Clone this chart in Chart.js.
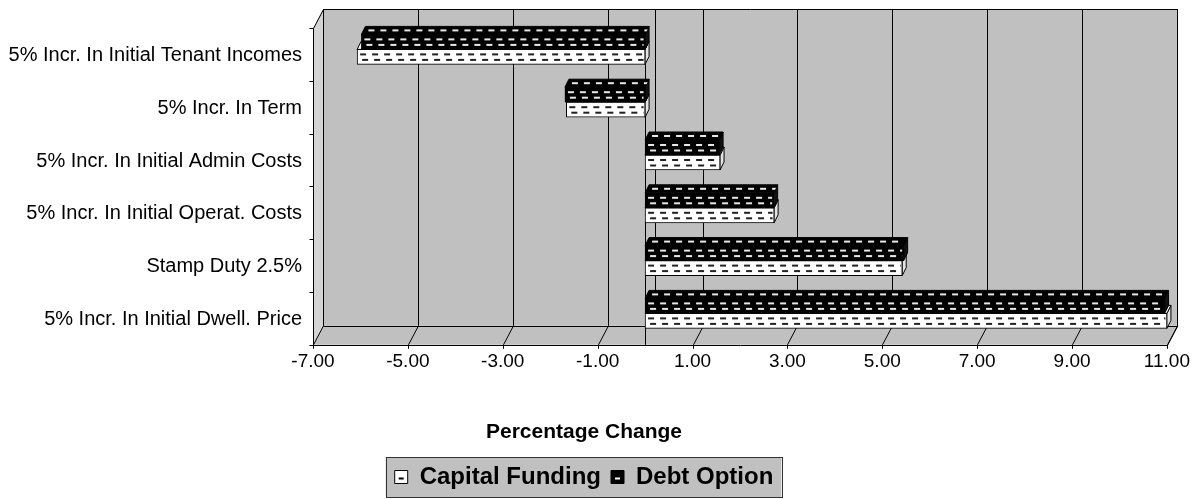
<!DOCTYPE html>
<html>
<head>
<meta charset="utf-8">
<script src="https://cdn.jsdelivr.net/npm/chart.js@4.4.0/dist/chart.umd.min.js"></script>
<style>
  html, body { margin: 0; padding: 0; background: #fff; }
  #wrap { width: 1201px; height: 499px; }
</style>
</head>
<body>
<div id="wrap"><canvas id="sens" width="1201" height="499"></canvas></div>
<script>
// percentage change in outcome for each input change
const categories = [
  '5% Incr. In Initial Tenant Incomes',
  '5% Incr. In Term',
  '5% Incr. In Initial Admin Costs',
  '5% Incr. In Initial Operat. Costs',
  'Stamp Duty 2.5%',
  '5% Incr. In Initial Dwell. Price'
];
const capitalFunding = [-6.07, -1.66, 1.58, 2.72, 5.42, 11.0];
const debtOption     = [-5.98, -1.69, 1.56, 2.71, 5.45, 10.95];
const xTicks = [-7, -5, -3, -1, 1, 3, 5, 7, 9, 11];

// fake 3D: back wall offset from the front plane, bar face depth
const WALL_DX = 10, WALL_DY = 19;
const FRONT_DY = 5;
const BAR_DX = 4, BAR_DY = 8;
const WALL = '#c0c0c0';

Chart.defaults.font.family = '"Liberation Sans", Arial, sans-serif';
Chart.defaults.color = '#000';

function line(ctx, x1, y1, x2, y2) {
  ctx.beginPath(); ctx.moveTo(x1, y1); ctx.lineTo(x2, y2); ctx.stroke();
}
function poly(ctx, pts, fill, stroke) {
  ctx.beginPath();
  pts.forEach((p, i) => i ? ctx.lineTo(p[0], p[1]) : ctx.moveTo(p[0], p[1]));
  ctx.closePath();
  if (fill) { ctx.fillStyle = fill; ctx.fill(); }
  if (stroke) { ctx.strokeStyle = stroke; ctx.stroke(); }
}
function barBox(el) {
  const p = el.getProps(['x', 'y', 'base', 'height'], true);
  return {
    l: Math.min(p.x, p.base), r: Math.max(p.x, p.base),
    t: p.y - p.height / 2, b: p.y + p.height / 2
  };
}
// rows of short dashes inside a clip region
function dashRows(ctx, x0, x1, rows, color, shift) {
  ctx.fillStyle = color;
  rows.forEach((ry, i) => {
    const off = (i % 2) * 2 + (shift || 0);
    for (let dx = x0 + 3 + off; dx < x1; dx += 12) ctx.fillRect(dx, ry - 1, 6, 2);
  });
}

const depth3d = {
  id: 'depth3d',
  beforeDraw(chart) {
    const { ctx, chartArea: ca, scales: { x } } = chart;
    const fL = ca.left, fR = ca.right, fT = ca.top + FRONT_DY, fB = ca.bottom + FRONT_DY;
    const bL = fL + WALL_DX, bR = fR + WALL_DX, bT = fT - WALL_DY, bB = fB - WALL_DY;
    ctx.save();
    ctx.fillStyle = '#fff';
    ctx.fillRect(0, 0, chart.width, chart.height);

    // walls and floor
    ctx.fillStyle = WALL;
    ctx.fillRect(bL, bT, bR - bL, bB - bT);
    poly(ctx, [[fL, fT], [bL, bT], [bL, bB], [fL, fB]], '#d4d4d4', null);
    poly(ctx, [[fL, fB], [bL, bB], [bR, bB], [fR, fB]], WALL, null);

    ctx.strokeStyle = '#000';
    ctx.lineWidth = 1;
    xTicks.forEach(v => {
      const px = Math.round(x.getPixelForValue(v)) + 0.5;
      line(ctx, px + WALL_DX, bT, px + WALL_DX, bB);
      line(ctx, px + WALL_DX, bB, px, fB);
      line(ctx, px, fB, px, fB + 4);
    });
    // value axis crossing at zero
    const z = Math.round(x.getPixelForValue(0)) + 0.5;
    line(ctx, z, fT, z, fB);
    line(ctx, z + WALL_DX, bT, z + WALL_DX, bB);

    const L = Math.round(fL) + 0.5, R = Math.round(fR) + 0.5;
    const T = Math.round(fT) + 0.5, B = Math.round(fB) + 0.5;
    const BT = Math.round(bT) + 0.5, BB = Math.round(bB) + 0.5;
    line(ctx, L, T, L, B);
    line(ctx, L, T, L + WALL_DX, BT);
    line(ctx, L + WALL_DX, BT, R + WALL_DX, BT);
    line(ctx, R + WALL_DX, BT, R + WALL_DX, BB);
    line(ctx, L + WALL_DX, BB, R + WALL_DX, BB);
    line(ctx, L, B, R, B);
    line(ctx, R, B, R + WALL_DX, BB);

    // category ticks on the left edge
    const step = ca.height / categories.length;
    for (let k = 0; k <= categories.length; k++) {
      const yy = Math.round(ca.top + k * step + FRONT_DY) + 0.5;
      line(ctx, L - 4, yy, L, yy);
    }

    // legend frame
    const lg = chart.legend;
    if (lg && lg.legendHitBoxes.length) {
      const hb = lg.legendHitBoxes;
      const l0 = Math.min(...hb.map(h => h.left)) - 9;
      const r0 = Math.max(...hb.map(h => h.left + h.width)) + 8;
      const t0 = Math.min(...hb.map(h => h.top)) - 8;
      const b0 = Math.max(...hb.map(h => h.top + h.height)) + 8;
      ctx.fillStyle = WALL;
      ctx.fillRect(l0, t0, r0 - l0, b0 - t0);
      ctx.strokeStyle = '#333';
      ctx.strokeRect(Math.round(l0) + 0.5, Math.round(t0) + 0.5, Math.round(r0 - l0), Math.round(b0 - t0));
    }
    ctx.restore();
  },
  // top and end faces go in before the front faces of each series
  beforeDatasetDraw(chart, args) {
    const { ctx } = chart;
    const dark = args.index === 0;
    ctx.save();
    ctx.lineWidth = 1;
    args.meta.data.forEach(el => {
      const b = barBox(el);
      const top = [[b.l, b.t], [b.l + BAR_DX, b.t - BAR_DY], [b.r + BAR_DX, b.t - BAR_DY], [b.r, b.t]];
      const side = [[b.r, b.t], [b.r + BAR_DX, b.t - BAR_DY], [b.r + BAR_DX, b.b - BAR_DY], [b.r, b.b]];
      poly(ctx, side, dark ? '#111' : '#e4e4e4', '#000');
      poly(ctx, top, dark ? '#000' : '#f4f4f4', '#000');
      ctx.save();
      poly(ctx, top, null, null);
      ctx.clip();
      dashRows(ctx, b.l + BAR_DX / 2, b.r, [b.t - BAR_DY / 2], dark ? '#e8e8e8' : '#222', 2);
      ctx.restore();
    });
    ctx.restore();
  },
  afterDatasetDraw(chart, args) {
    const { ctx } = chart;
    const dark = args.index === 0;
    ctx.save();
    args.meta.data.forEach(el => {
      const b = barBox(el);
      ctx.save();
      ctx.beginPath();
      ctx.rect(b.l + 1.5, b.t + 1.5, b.r - b.l - 3, b.b - b.t - 3);
      ctx.clip();
      dashRows(ctx, b.l, b.r, [b.t + 5, b.t + 10.5], dark ? '#e8e8e8' : '#222');
      ctx.restore();
    });
    ctx.restore();
  },
  afterDraw(chart) {
    const lg = chart.legend;
    if (!lg) return;
    const { ctx } = chart;
    const fs = lg.options.labels.font.size, bh = lg.options.labels.boxHeight;
    lg.legendItems.forEach((item, i) => {
      const hb = lg.legendHitBoxes[i];
      const top = hb.top + Math.max((fs - bh) / 2, 0);
      ctx.fillStyle = item.datasetIndex === 0 ? '#fff' : '#000';
      ctx.fillRect(hb.left + 4, top + 7, 5, 2);
    });
  }
};

new Chart(document.getElementById('sens'), {
  type: 'bar',
  data: {
    labels: categories,
    datasets: [
      {
        label: 'Debt Option', data: debtOption,
        backgroundColor: '#000', borderColor: '#000', borderWidth: 1, borderSkipped: false
      },
      {
        label: 'Capital Funding', data: capitalFunding,
        backgroundColor: '#fff', borderColor: '#000', borderWidth: 1, borderSkipped: false
      }
    ]
  },
  options: {
    indexAxis: 'y',
    responsive: false,
    animation: false,
    devicePixelRatio: 1,
    barThickness: 15,
    layout: { padding: { left: 0, top: 20, right: 33, bottom: 0 } },
    scales: {
      x: {
        min: -7, max: 11,
        afterBuildTicks: s => { s.ticks = xTicks.map(v => ({ value: v })); },
        afterFit: s => { s.height = 80; },
        grid: { display: false, drawTicks: false, tickLength: 0 },
        border: { display: false },
        ticks: {
          padding: 11, maxRotation: 0, autoSkip: false,
          font: { size: 19 }, color: '#000',
          callback: v => Number(v).toFixed(2)
        }
      },
      y: {
        afterFit: s => { s.width = 313; },
        grid: { display: false, drawTicks: false, tickLength: 0 },
        border: { display: false },
        ticks: { padding: 11, labelOffset: 6, font: { size: 20 }, color: '#000' }
      }
    },
    plugins: {
      tooltip: { enabled: false },
      title: {
        display: true, position: 'bottom', text: 'Percentage Change',
        color: '#000', font: { size: 21, weight: 'bold' },
        padding: { top: 0, bottom: 10 }
      },
      legend: {
        position: 'bottom', reverse: true, weight: 3000,
        labels: {
          boxWidth: 13, boxHeight: 13, padding: 10, color: '#000',
          font: { size: 24, weight: 'bold' }
        }
      }
    }
  },
  plugins: [depth3d]
});
</script>
</body>
</html>
